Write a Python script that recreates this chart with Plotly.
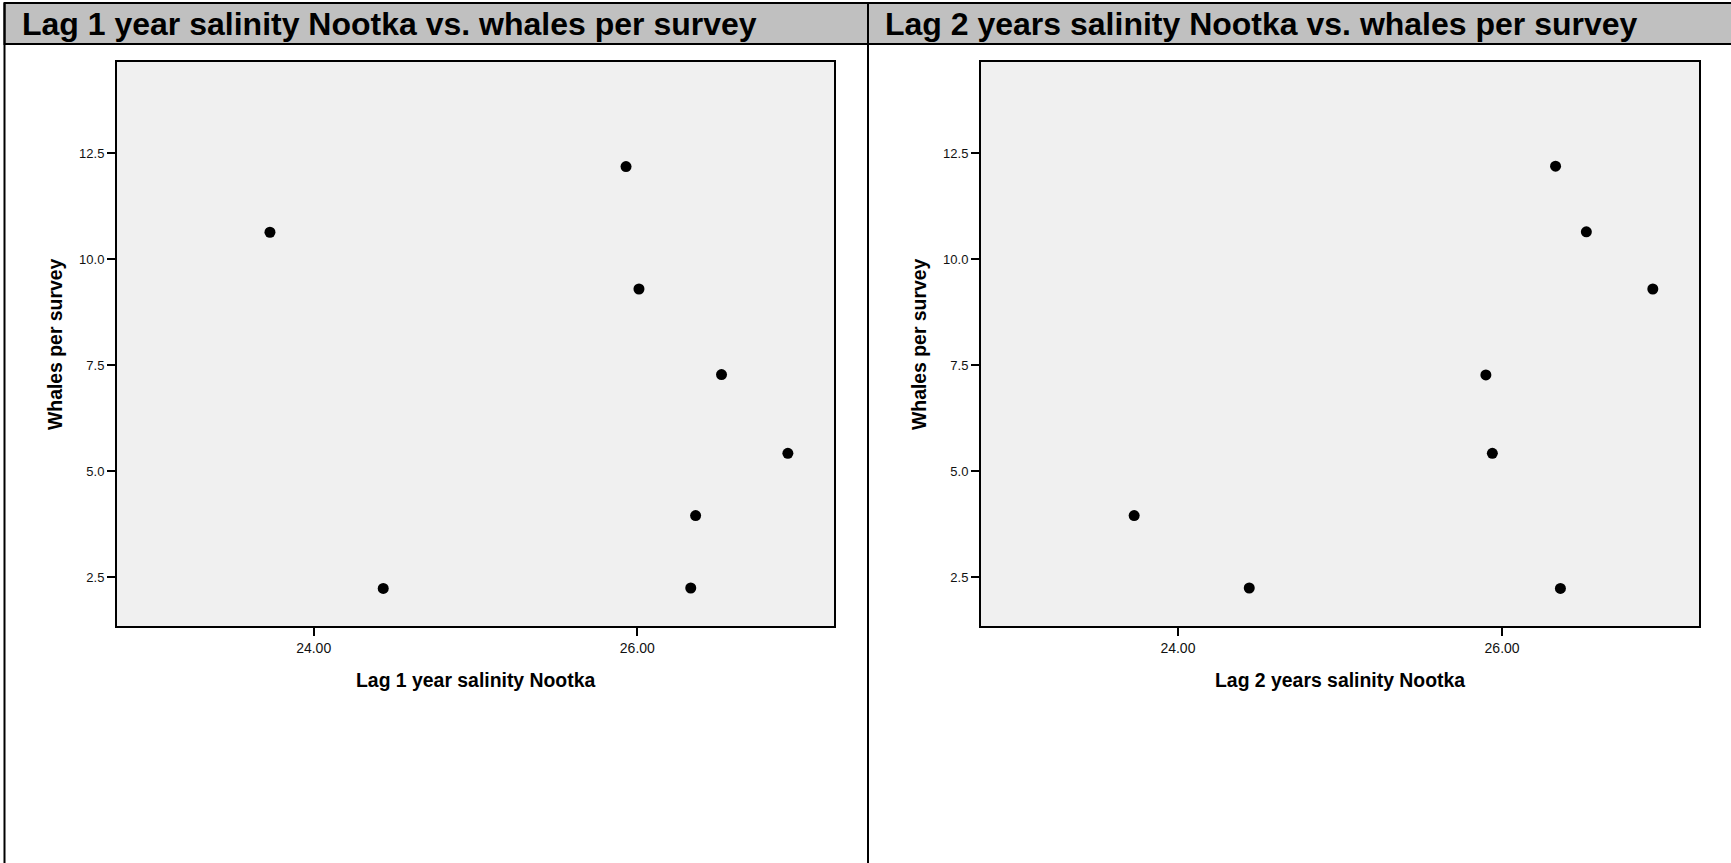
import plotly.graph_objects as go

# Canvas size in pixels
W, H = 1731, 863

# Lag 1 year salinity (Nootka) vs. whales per survey
salinity_lag1 = [23.73, 24.43, 25.93, 26.01, 26.52, 26.93, 26.36, 26.33]
whales_lag1 = [10.64, 2.23, 12.19, 9.30, 7.28, 5.42, 3.95, 2.24]

# Lag 2 years salinity (Nootka) vs. whales per survey
salinity_lag2 = [26.33, 26.52, 26.93, 25.90, 25.94, 23.73, 24.44, 26.36]
whales_lag2 = [12.20, 10.65, 9.30, 7.27, 5.42, 3.95, 2.24, 2.23]

x_ticks = [24, 26]
x_tick_text = ["24.00", "26.00"]
y_ticks = [2.5, 5.0, 7.5, 10.0, 12.5]
y_tick_text = ["2.5", "5.0", "7.5", "10.0", "12.5"]

panel_titles = [
    "Lag 1 year salinity Nootka vs. whales per survey",
    "Lag 2 years salinity Nootka vs. whales per survey",
]
x_titles = ["Lag 1 year salinity Nootka", "Lag 2 years salinity Nootka"]
y_title = "Whales per survey"

FONT = "Liberation Sans, Arial, Helvetica, sans-serif"


def px(x):
    return x / W


def py(y):
    return 1 - y / H


# plot area boxes in pixels: (left, right, top, bottom)
boxes = [(117, 834, 62, 626), (981, 1699, 62, 626)]
panel_left = [4.5, 868]

fig = go.Figure()

fig.add_trace(go.Scatter(
    x=salinity_lag1, y=whales_lag1, mode="markers",
    marker=dict(color="black", size=11, line=dict(width=0)),
    xaxis="x", yaxis="y", showlegend=False, hoverinfo="x+y",
))
fig.add_trace(go.Scatter(
    x=salinity_lag2, y=whales_lag2, mode="markers",
    marker=dict(color="black", size=11, line=dict(width=0)),
    xaxis="x2", yaxis="y2", showlegend=False, hoverinfo="x+y",
))

axis_common = dict(
    showgrid=False, zeroline=False,
    showline=True, mirror=True, linecolor="black", linewidth=2,
    ticks="outside", ticklen=8, tickwidth=1.5, tickcolor="black",
)

x_range = [22.785, 27.215]
y_range = [1.343, 14.66]

layout_axes = {}
for i, (l, r, t, b) in enumerate(boxes):
    sfx = "" if i == 0 else str(i + 1)
    layout_axes["xaxis" + sfx] = dict(
        axis_common, domain=[px(l), px(r)], range=x_range,
        tickvals=x_ticks, ticktext=x_tick_text,
        tickfont=dict(family=FONT, size=14, color="#111"),
        anchor="y" + sfx,
    )
    layout_axes["yaxis" + sfx] = dict(
        axis_common, domain=[py(b), py(t)], range=y_range,
        tickvals=y_ticks, ticktext=y_tick_text,
        tickfont=dict(family=FONT, size=13, color="#111"),
        anchor="x" + sfx,
    )

shapes = [
    # title band across both panels
    dict(type="rect", xref="paper", yref="paper",
         x0=px(4.5), x1=px(W + 5), y0=py(44), y1=py(3),
         fillcolor="#c0c0c0", line=dict(color="black", width=2), layer="below"),
]
for xl in panel_left:
    shapes.append(dict(type="line", xref="paper", yref="paper",
                       x0=px(xl), x1=px(xl), y0=py(3), y1=py(H + 5),
                       line=dict(color="black", width=2)))

annotations = []
for i, (l, r, t, b) in enumerate(boxes):
    annotations.append(dict(
        text="<b>" + panel_titles[i] + "</b>", xref="paper", yref="paper",
        x=px(panel_left[i] + 15), y=py(24), xanchor="left", yanchor="middle",
        showarrow=False, font=dict(family=FONT, size=32, color="black"),
    ))
    annotations.append(dict(
        text="<b>" + x_titles[i] + "</b>", xref="paper", yref="paper",
        x=px((l + r) / 2), y=py(680), xanchor="center", yanchor="middle",
        showarrow=False, font=dict(family=FONT, size=19.4, color="black"),
    ))
    annotations.append(dict(
        text="<b>" + y_title + "</b>", xref="paper", yref="paper",
        x=px(l - 62), y=py((t + b) / 2), xanchor="center", yanchor="middle",
        textangle=-90, showarrow=False,
        font=dict(family=FONT, size=19.4, color="black"),
    ))

fig.update_layout(
    width=W, height=H,
    margin=dict(l=0, r=0, t=0, b=0),
    paper_bgcolor="white", plot_bgcolor="#f0f0f0",
    shapes=shapes, annotations=annotations,
    **layout_axes,
)

fig.write_html("out.html", config={"displayModeBar": False})
